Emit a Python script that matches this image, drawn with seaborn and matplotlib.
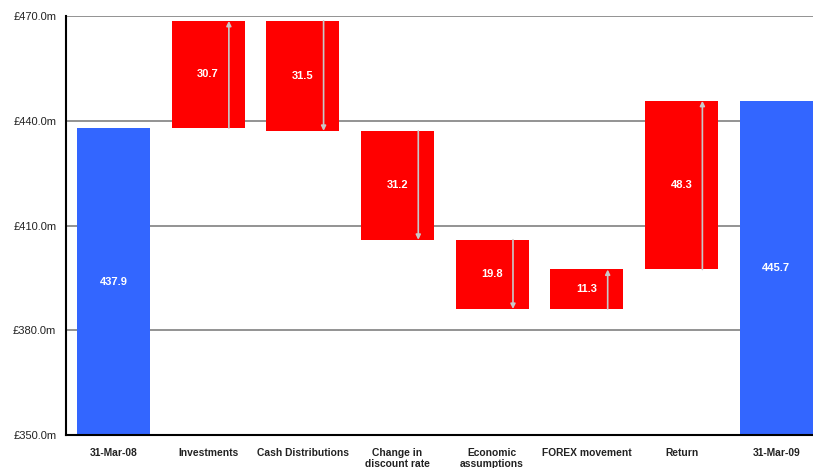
import matplotlib
matplotlib.use("Agg")
import matplotlib.pyplot as plt
import seaborn as sns
import pandas as pd
import numpy as np

categories = ["31-Mar-08", "Investments", "Cash Distributions", "Change in\ndiscount rate",
              "Economic\nassumptions", "FOREX movement", "Return", "31-Mar-09"]
changes = [437.9, 30.7, -31.5, -31.2, -19.8, 11.3, 48.3, 445.7]
kinds = ["total", "delta", "delta", "delta", "delta", "delta", "delta", "total"]
labels = ["437.9", "30.7", "31.5", "31.2", "19.8", "11.3", "48.3", "445.7"]
yticks = [350, 380, 410, 440, 470]

# compute waterfall bottoms/heights
bottoms, heights, starts, ends = [], [], [], []
run = 0.0
for c, k in zip(changes, kinds):
    if k == "total":
        bottoms.append(350.0); heights.append(c - 350.0)
        starts.append(None); ends.append(None)
        run = c
    else:
        new = run + c
        bottoms.append(min(run, new)); heights.append(abs(c))
        starts.append(run); ends.append(new)
        run = new

df = pd.DataFrame({"cat": categories, "bottom": bottoms, "height": heights,
                   "kind": kinds})
colors = {"total": "#3366FF", "delta": "#FF0000"}

sns.set_style("white")
plt.rcParams['font.family'] = ['Liberation Sans', 'DejaVu Sans']

fig = plt.figure(figsize=(8.13, 4.68), dpi=100)
W, H = 813, 468
cw = 94.7
ax = fig.add_axes([66 / W, (H - 435) / H, 8 * cw / W, (435 - 16) / H])

sns.barplot(data=df, x="cat", y="height", order=categories, color="#FF0000",
            bottom=df["bottom"].values, width=0.77, saturation=1, ax=ax,
            linewidth=0, errorbar=None)
for p, k in zip(ax.patches, kinds):
    p.set_facecolor(colors[k])

ax.set_xlim(-0.5, 7.5)
ax.set_ylim(350, 470)
ax.set_yticks(yticks)
ax.set_yticklabels([f"£{v:.1f}m" for v in yticks], fontsize=8, color="#222222")
for v in yticks[1:]:
    ax.axhline(v, color="#808080", lw=1.2, zorder=0)

ax.set_xticks(np.arange(-0.5, 8.0, 1.0), minor=False)
ax.set_xticklabels([])
ax.set_xticks(np.arange(8), minor=True)
ax.set_xticklabels(categories, minor=True, fontsize=7.4, fontweight="bold",
                   color="#222222", linespacing=1.15)
ax.tick_params(axis="x", which="minor", length=0, pad=9)
ax.tick_params(axis="x", which="major", length=5, width=1.2, color="black", direction="out")
ax.tick_params(axis="y", length=5, width=1.2, color="black", direction="out", pad=2)
ax.set_xlabel(""); ax.set_ylabel("")

for s in ["top", "right"]:
    ax.spines[s].set_visible(False)
ax.spines["left"].set_color("black"); ax.spines["left"].set_linewidth(1.5)
ax.spines["bottom"].set_color("black"); ax.spines["bottom"].set_linewidth(1.5)

for i in range(len(categories)):
    mid = bottoms[i] + heights[i] / 2
    ax.text(i, mid, labels[i], color="white", fontsize=8, fontweight="bold",
            ha="center", va="center")
    if starts[i] is not None:
        ax.annotate("", xy=(i + 0.22, ends[i]), xytext=(i + 0.22, starts[i]),
                    arrowprops=dict(arrowstyle="-|>", color="#C8C8C8", lw=1.2,
                                    mutation_scale=7, shrinkA=0, shrinkB=0))

fig.savefig("out.png", dpi=100)
